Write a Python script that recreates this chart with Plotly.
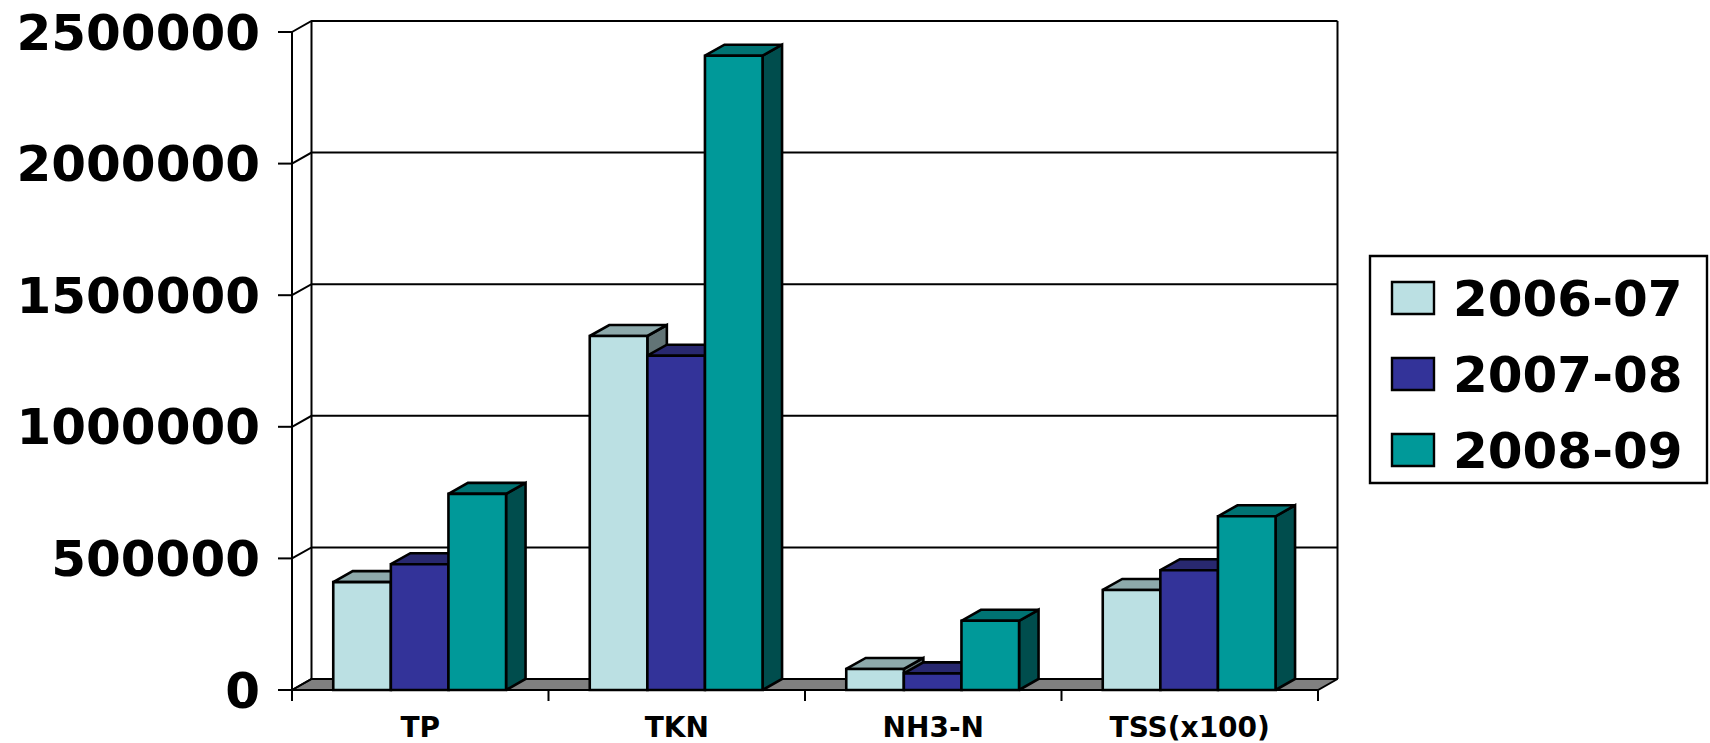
import plotly.graph_objects as go

# ---- data -------------------------------------------------------------
categories = ["TP", "TKN", "NH3-N", "TSS(x100)"]
seasons = ["2006-07", "2007-08", "2008-09"]
load_2006_07 = [410000, 1345000, 80000, 380000]
load_2007_08 = [478000, 1270000, 63000, 455000]
load_2008_09 = [745000, 2410000, 263000, 660000]
y_ticks = [0, 500000, 1000000, 1500000, 2000000, 2500000]
y_tick_labels = ["0", "500000", "1000000", "1500000", "2000000", "2500000"]

series = [load_2006_07, load_2007_08, load_2008_09]
front_colors = ["#BBE0E3", "#333399", "#009999"]
top_colors = ["#8DA9AB", "#28286F", "#007373"]
side_colors = ["#627476", "#1E1E58", "#004D4D"]

# ---- layout geometry (pixels) ----------------------------------------
W, H = 1710, 743
PLOT_L, PLOT_R, PLOT_T, PLOT_B = 270, 1345, 14, 706
FRONT_X0, FRONT_X1 = 292, 1318          # front edge of the category axis
ZERO_Y, TOP_Y = 690, 32                 # pixel rows of 0 and of the top tick
DEPTH_PX_X, DEPTH_PX_Y = 19.5, 11       # oblique depth of the 3-D box

n_cat = len(categories)
ux = n_cat / (FRONT_X1 - FRONT_X0)      # x data units per pixel
uy = y_ticks[-1] / (ZERO_Y - TOP_Y)     # y data units per pixel
x_lo = -0.5 - (FRONT_X0 - PLOT_L) * ux
x_hi = n_cat - 0.5 + (PLOT_R - FRONT_X1) * ux
y_lo = -(PLOT_B - ZERO_Y) * uy
y_hi = y_ticks[-1] + (TOP_Y - PLOT_T) * uy
DX = DEPTH_PX_X * ux
DY = DEPTH_PX_Y * uy
BAR_W = 57.6 * ux
FIRST_OFF = -87.0 * ux

x_left, x_right = -0.5, n_cat - 0.5
y_max = y_ticks[-1]
GRID = dict(color="black", width=2)
EDGE = dict(color="black", width=2.6)


def px_to_paper_x(px):
    return (px - PLOT_L) / (PLOT_R - PLOT_L)


def px_to_paper_y(py):
    return (PLOT_B - py) / (PLOT_B - PLOT_T)


fig = go.Figure()

# floor of the box
fig.add_trace(go.Scatter(
    x=[x_left, x_right, x_right + DX, x_left + DX, x_left],
    y=[0, 0, DY, DY, 0],
    mode="lines", fill="toself", fillcolor="#808080", line=GRID,
    hoverinfo="skip", showlegend=False))

# gridlines running over the left wall and along the back wall
gx, gy = [], []
for v in y_ticks:
    gx += [x_left, x_left + DX, x_right + DX, None]
    gy += [v, v + DY, v + DY, None]
# back wall vertical edges
gx += [x_left + DX, x_left + DX, None, x_right + DX, x_right + DX, None]
gy += [DY, y_max + DY, None, DY, y_max + DY, None]
fig.add_trace(go.Scatter(x=gx, y=gy, mode="lines", line=GRID,
                         hoverinfo="skip", showlegend=False))

# front axes with their tick marks
ax_x = [x_left, x_left, None, x_left, x_right, None]
ax_y = [0, y_max, None, 0, 0, None]
for v in y_ticks:
    ax_x += [x_left - 14 * ux, x_left, None]
    ax_y += [v, v, None]
for b in range(n_cat + 1):
    ax_x += [x_left + b, x_left + b, None]
    ax_y += [0, -11 * uy, None]
fig.add_trace(go.Scatter(x=ax_x, y=ax_y, mode="lines", line=GRID,
                         hoverinfo="skip", showlegend=False))

# side and top faces of every column
for i, vals in enumerate(series):
    off = FIRST_OFF + i * BAR_W
    sx, sy, tx, ty = [], [], [], []
    for c, v in enumerate(vals):
        xl = c + off
        xr = xl + BAR_W
        sx += [xr, xr + DX, xr + DX, xr, xr, None]
        sy += [0, DY, v + DY, v, 0, None]
        tx += [xl, xr, xr + DX, xl + DX, xl, None]
        ty += [v, v, v + DY, v + DY, v, None]
    fig.add_trace(go.Scatter(x=sx, y=sy, mode="lines", fill="toself",
                             fillcolor=side_colors[i], line=EDGE,
                             hoverinfo="skip", showlegend=False))
    fig.add_trace(go.Scatter(x=tx, y=ty, mode="lines", fill="toself",
                             fillcolor=top_colors[i], line=EDGE,
                             hoverinfo="skip", showlegend=False))

# front faces of the columns, on an overlaid subplot so they sit on top
for i, vals in enumerate(series):
    fig.add_trace(go.Bar(
        x=list(range(n_cat)), y=vals, name=seasons[i],
        width=BAR_W, offset=FIRST_OFF + i * BAR_W,
        marker=dict(color=front_colors[i], line=EDGE),
        xaxis="x2", yaxis="y2", showlegend=False))

# legend drawn as a boxed key
shapes = []
annotations = []
LEG_L, LEG_R, LEG_T, LEG_B = 1370, 1707, 256, 483
shapes.append(dict(type="rect", xref="paper", yref="paper",
                   x0=px_to_paper_x(LEG_L), x1=px_to_paper_x(LEG_R),
                   y0=px_to_paper_y(LEG_B), y1=px_to_paper_y(LEG_T),
                   line=dict(color="black", width=2.4), fillcolor="white"))
row_centers = [298, 374, 450]
for i, name in enumerate(seasons):
    cy = row_centers[i]
    shapes.append(dict(type="rect", xref="paper", yref="paper",
                       x0=px_to_paper_x(1392), x1=px_to_paper_x(1434),
                       y0=px_to_paper_y(cy + 16), y1=px_to_paper_y(cy - 16),
                       line=dict(color="black", width=2.4),
                       fillcolor=front_colors[i]))
    annotations.append(dict(xref="paper", yref="paper",
                            x=px_to_paper_x(1451), y=px_to_paper_y(cy + 1),
                            xanchor="left", yanchor="middle",
                            text=name, showarrow=False,
                            font=dict(family="DejaVu Sans", size=50,
                                      color="black", weight="bold")))

axis_common = dict(showgrid=False, zeroline=False, showline=False)
fig.update_layout(
    template="none",
    width=W, height=H,
    margin=dict(l=PLOT_L, r=W - PLOT_R, t=PLOT_T, b=H - PLOT_B,
                autoexpand=False),
    paper_bgcolor="white", plot_bgcolor="white",
    barmode="overlay",
    xaxis=dict(range=[x_lo, x_hi], tickvals=list(range(n_cat)),
               ticktext=categories, ticks="", automargin=False,
               ticklabelstandoff=2,
               tickfont=dict(family="DejaVu Sans", size=28, color="black",
                             weight="bold"),
               **axis_common),
    yaxis=dict(range=[y_lo, y_hi], tickvals=[v for v in y_ticks],
               ticktext=y_tick_labels, ticks="", automargin=False,
               ticklabelstandoff=9,
               tickfont=dict(family="DejaVu Sans", size=50, color="black",
                             weight="bold"),
               **axis_common),
    xaxis2=dict(range=[x_lo, x_hi], overlaying="x", matches="x",
                visible=False),
    yaxis2=dict(range=[y_lo, y_hi], overlaying="y", matches="y",
                visible=False),
    shapes=shapes,
    annotations=annotations,
    showlegend=False,
)

fig.write_html("out.html")
